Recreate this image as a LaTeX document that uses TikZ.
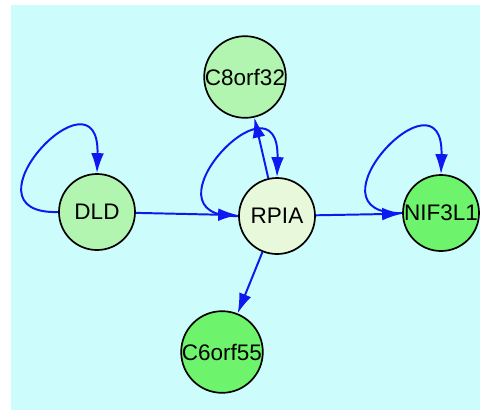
\documentclass[tikz,border=0pt]{standalone}
\usepackage{fontspec}
\setmainfont{Liberation Sans}
\usetikzlibrary{arrows.meta}

\definecolor{fond}{RGB}{204,252,252}
\definecolor{bleulien}{RGB}{16,24,240}
\definecolor{vertclair}{RGB}{178,245,176}
\definecolor{vertpale}{RGB}{232,248,218}
\definecolor{vertvif}{RGB}{110,244,108}

\tikzset{gene/.style = {circle, draw, line width = 1.2pt, fill = #1,
                        minimum size = 1.9cm, inner sep = 0pt,
                        font = \fontsize{16}{19}\selectfont},
         gene/.default = vertclair,
         lien/.style = {draw = bleulien, line width = 1.4pt,
                        -{Latex[length = 5mm, width = 3.2mm]}}
        }

\begin{document}
\begin{tikzpicture}[x=0.025cm, y=-0.025cm]
  \useasboundingbox (0, 0) rectangle (480, 410);
  \fill[white] (0, 0) rectangle (480, 410);
  \fill[fond] (11, 5) rectangle (480, 410);

  \node[gene]           (c8)   at (245, 77)  {C8orf32};
  \node[gene]           (dld)  at (97, 212)  {DLD};
  \node[gene=vertpale]  (rpia) at (277, 216) {RPIA};
  \node[gene=vertvif]   (nif)  at (441, 213) {NIF3L1};
  \node[gene=vertvif]   (c6)   at (222, 352) {C6orf55};

  \draw[lien] (dld) -- (rpia);
  \draw[lien] (rpia) -- (nif);
  \draw[lien] (rpia) -- (c8);
  \draw[lien] (rpia) -- (c6);
  % boucles
  \foreach \n in {dld, rpia, nif}
    \draw[lien] (\n.west) .. controls +(-103, 3) and +(3, -112) .. (\n.north);
\end{tikzpicture}
\end{document}
